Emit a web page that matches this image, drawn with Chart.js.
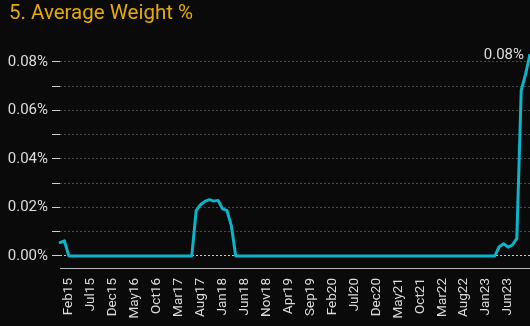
<!DOCTYPE html>
<html>
<head>
<meta charset="utf-8">
<script src="https://cdn.jsdelivr.net/npm/chart.js@4.4.1/dist/chart.umd.min.js"></script>
<style>
  html, body { margin: 0; padding: 0; background: #0a0a0a; }
  #wrap { position: relative; width: 530px; height: 326px; }
  #title {
    position: absolute; left: 9px; top: 0px;
    font: 20.5px Roboto, "Noto Sans", sans-serif;
    color: #e6ab08; white-space: nowrap;
  }
  canvas { display: block; }
</style>
</head>
<body>
<div id="wrap">
  <div id="title">5. Average Weight %</div>
  <canvas id="chart" width="530" height="326"></canvas>
</div>
<script>
// Monthly series, Dec 2014 through Nov 2023
const MONTH_NAMES = ['Jan','Feb','Mar','Apr','May','Jun','Jul','Aug','Sep','Oct','Nov','Dec'];
const months = [];
for (let y = 2014, m = 11; !(y === 2023 && m === 11); ) {
  months.push(MONTH_NAMES[m] + String(y).slice(2));
  m++; if (m === 12) { m = 0; y++; }
}

// Average weight, in percent
const weightPct = [
  0.0055, 0.0062, 0, 0, 0, 0, 0, 0, 0, 0, 0, 0,          // Dec14 - Nov15
  0, 0, 0, 0, 0, 0, 0, 0, 0, 0, 0, 0,                    // Dec15 - Nov16
  0, 0, 0, 0, 0, 0, 0, 0.0187, 0.0211, 0.0225, 0.0232, 0.0226, // Dec16 - Nov17
  0.0229, 0.0194, 0.0188, 0.0125, 0, 0, 0, 0, 0, 0, 0, 0,      // Dec17 - Nov18
  0, 0, 0, 0, 0, 0, 0, 0, 0, 0, 0, 0,                    // Dec18 - Nov19
  0, 0, 0, 0, 0, 0, 0, 0, 0, 0, 0, 0,                    // Dec19 - Nov20
  0, 0, 0, 0, 0, 0, 0, 0, 0, 0, 0, 0,                    // Dec20 - Nov21
  0, 0, 0, 0, 0, 0, 0, 0, 0, 0, 0, 0,                    // Dec21 - Nov22
  0, 0, 0, 0, 0.0038, 0.005, 0.0036, 0.0045, 0.0072, 0.0683, 0.075, 0.0833 // Dec22 - Nov23
];

// Labelled x ticks: every fifth month from Feb15 to Jun23
const X_LABEL_START = 2;
const X_LABEL_STEP = 5;
const X_LABEL_END = 102;

// y tick positions (percent); only every other one is labelled
const yTicks = [0, 0.01, 0.02, 0.03, 0.04, 0.05, 0.06, 0.07, 0.08];
const yMin = -0.005;

const fmtPct = v => v.toFixed(2) + '%';

const lastValueLabel = {
  id: 'lastValueLabel',
  afterDatasetsDraw(chart) {
    const meta = chart.getDatasetMeta(0);
    const pt = meta.data[meta.data.length - 1];
    const val = weightPct[weightPct.length - 1];
    const ctx = chart.ctx;
    ctx.save();
    ctx.font = '15px Roboto, "Noto Sans", sans-serif';
    ctx.fillStyle = '#dcdcdc';
    ctx.textAlign = 'right';
    ctx.textBaseline = 'middle';
    ctx.fillText(fmtPct(val), pt.x - 6, pt.y + 1);
    ctx.restore();
  }
};

new Chart(document.getElementById('chart'), {
  type: 'line',
  data: {
    labels: months,
    datasets: [{
      data: weightPct,
      borderColor: '#0cb4c9',
      borderWidth: 3,
      pointRadius: 0,
      pointHoverRadius: 0,
      tension: 0,
      borderJoinStyle: 'round',
      borderCapStyle: 'round',
      fill: false
    }]
  },
  options: {
    responsive: false,
    animation: false,
    events: [],
    layout: { autoPadding: false, padding: { left: 6, right: 0, top: 54, bottom: 0 } },
    plugins: { legend: { display: false }, tooltip: { enabled: false }, title: { display: false } },
    scales: {
      x: {
        type: 'category',
        offset: false,
        grid: { display: false, drawTicks: false },
        border: { display: true, color: '#b8b8b8', dash: [1, 2], width: 1 },
        ticks: {
          autoSkip: false,
          maxRotation: 90,
          minRotation: 90,
          padding: 10,
          color: '#dcdcdc',
          font: { family: 'Roboto, "Noto Sans", sans-serif', size: 13.5 },
          callback: (v, i) => (i >= X_LABEL_START && i <= X_LABEL_END && (i - X_LABEL_START) % X_LABEL_STEP === 0) ? months[i] : ''
        },
        afterFit: s => { s.height = 58; s.paddingLeft = 0; s.paddingRight = 0; }
      },
      y: {
        min: yMin,
        max: Math.max(...weightPct),
        afterBuildTicks: s => { s.ticks = yTicks.map(v => ({ value: v })); },
        grid: {
          display: true,
          drawOnChartArea: true,
          drawTicks: true,
          tickLength: 8,
          color: ctx => (ctx.tick && ctx.tick.value === 0) ? '#c8c8c8' : '#4a4a4a',
          tickColor: '#cfcfcf',
          tickBorderDash: [],
          lineWidth: 1
        },
        border: { display: false, dash: [2, 2] },
        ticks: {
          padding: 4,
          color: '#dcdcdc',
          font: { family: 'Roboto, "Noto Sans", sans-serif', size: 15 },
          callback: v => (Math.round(v * 100) % 2 === 0) ? fmtPct(v) : ''
        },
        afterFit: s => { s.width = 54; }
      }
    }
  },
  plugins: [lastValueLabel]
});
</script>
</body>
</html>
